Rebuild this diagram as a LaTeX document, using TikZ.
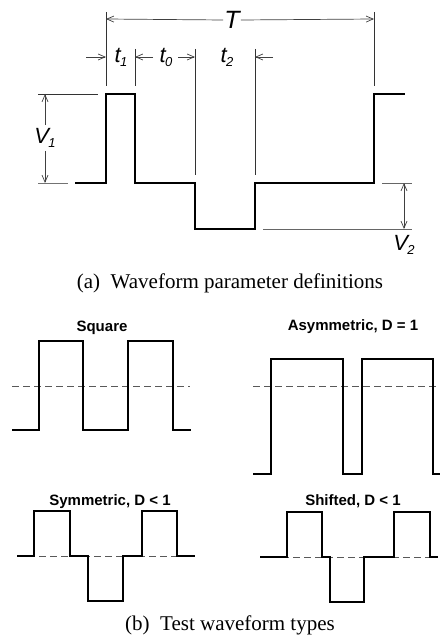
\documentclass[tikz,border=0pt]{standalone}
\usepackage{fontspec}
\setmainfont{Liberation Serif}
\setsansfont{Liberation Sans}
\usetikzlibrary{arrows.meta}
\newcommand{\wlab}[2]{{\sffamily\itshape\fontsize{22}{22}\selectfont #1\hspace{-0.5pt}\raisebox{-4pt}{\fontsize{13}{13}\selectfont #2}}}
\begin{document}
\begin{tikzpicture}[x=1pt,y=-1pt,
  wave/.style={line width=2.6pt,line cap=butt,line join=miter},
  swave/.style={line width=1.8pt,line join=miter},
  extline/.style={line width=0.7pt,black!80},
  dimboth/.style={line width=0.7pt,black!75,{Straight Barb[length=7pt,width=6pt]}-{Straight Barb[length=7pt,width=6pt]}},
  dimr/.style={line width=0.7pt,black!75,-{Straight Barb[length=7pt,width=6pt]}},
  midline/.style={line width=0.7pt,black!65,dash pattern=on 7pt off 4pt},
  ttl/.style={font=\sffamily\bfseries\fontsize{15}{15}\selectfont,inner sep=0pt},
  captxt/.style={font=\fontsize{21}{21}\selectfont,inner sep=0pt},
  lbl/.style={inner sep=1pt,fill=white}]
\useasboundingbox (0,0) rectangle (439,639);
% ---- (a) ----
\draw[extline] (106,12) -- (106,86);
\draw[extline] (374,12) -- (374,86);
\node[lbl,font=\sffamily\itshape\fontsize{25}{25}\selectfont] (T) at (232,20) {T};
\coordinate (TL) at (106,19); \coordinate (TR) at (374,19);
\draw[dimr] (T.west) -- (TL);
\draw[dimr] (T.east) -- (TR);
% t row
\draw[extline] (135,49) -- (135,86);
\draw[extline] (195,49) -- (195,175);
\draw[extline] (255,49) -- (255,175);
\node[inner sep=0pt] (t1) at (121,57) {\wlab{t}{1}};
\node[inner sep=0pt] (t0) at (166,57) {\wlab{t}{0}};
\node[inner sep=0pt] (t2) at (227,57) {\wlab{t}{2}};
\coordinate (a1s) at (86,57); \coordinate (a1e) at (106,57);
\coordinate (a2s) at (153,57); \coordinate (a2e) at (135,57);
\coordinate (a3s) at (178,57); \coordinate (a3e) at (195,57);
\coordinate (a4s) at (273,57); \coordinate (a4e) at (255,57);
\draw[dimr] (a1s) -- (a1e);
\draw[dimr] (a2s) -- (a2e);
\draw[dimr] (a3s) -- (a3e);
\draw[dimr] (a4s) -- (a4e);
% waveform
\draw[wave] (75,183) -- (106,183) -- (106,94) -- (135,94) -- (135,183) -- (195,183) -- (195,229) -- (255,229) -- (255,183) -- (374,183) -- (374,94) -- (405,94);
% V1
\draw[extline] (38,94) -- (98,94);
\draw[extline,black!55] (38,183) -- (68,183);
\node[inner sep=0pt] (V1) at (45,138) {\wlab{V}{1}};
\coordinate (V1t) at (45,94); \coordinate (V1b) at (45,183);
\draw[dimr] (V1.north) ++(0,-3) -- (V1t);
\draw[dimr] (V1.south) ++(0,3) -- (V1b);
% V2
\draw[extline,black!60] (382,183) -- (412,183);
\draw[extline,black!60] (263,229) -- (412,229);
\coordinate (V2t) at (404,183); \coordinate (V2b) at (404,229);
\draw[dimboth] (V2t) -- (V2b);
\node[inner sep=0pt] (V2) at (404,245) {\wlab{V}{2}};
\node[captxt] (capa) at (230,283) {(a)\ \ Waveform parameter definitions};
% ---- (b) ----
\node[ttl] (sq) at (102,328) {Square};
\draw[midline] (12,386) -- (190,386);
\draw[swave] (12,430) -- (39,430) -- (39,341) -- (83,341) -- (83,430) -- (128,430) -- (128,341) -- (173,341) -- (173,430) -- (191,430);
\node[ttl] (as) at (353,327) {Asymmetric, D = 1};
\draw[midline] (253,386) -- (439,386);
\draw[swave] (253,474) -- (271,474) -- (271,359) -- (343,359) -- (343,474) -- (362,474) -- (362,359) -- (433,359) -- (433,474) -- (440,474);
\node[ttl] (sy) at (110,502) {Symmetric, D < 1};
\draw[midline] (17,556) -- (195,556);
\draw[swave] (17,556) -- (34,556) -- (34,511) -- (70,511) -- (70,556) -- (88,556) -- (88,601) -- (123,601) -- (123,556) -- (142,556) -- (142,511) -- (177,511) -- (177,556) -- (195,556);
\node[ttl] (sh) at (353,501) {Shifted, D < 1};
\draw[midline] (260,557) -- (438,557);
\draw[swave] (260,557) -- (287,557) -- (287,512) -- (322,512) -- (322,557) -- (330,557) -- (330,602) -- (364,602) -- (364,557) -- (394,557) -- (394,512) -- (430,512) -- (430,557) -- (438,557);
\node[captxt] (capb) at (230,625) {(b)\ \ Test waveform types};
\end{tikzpicture}
\end{document}
